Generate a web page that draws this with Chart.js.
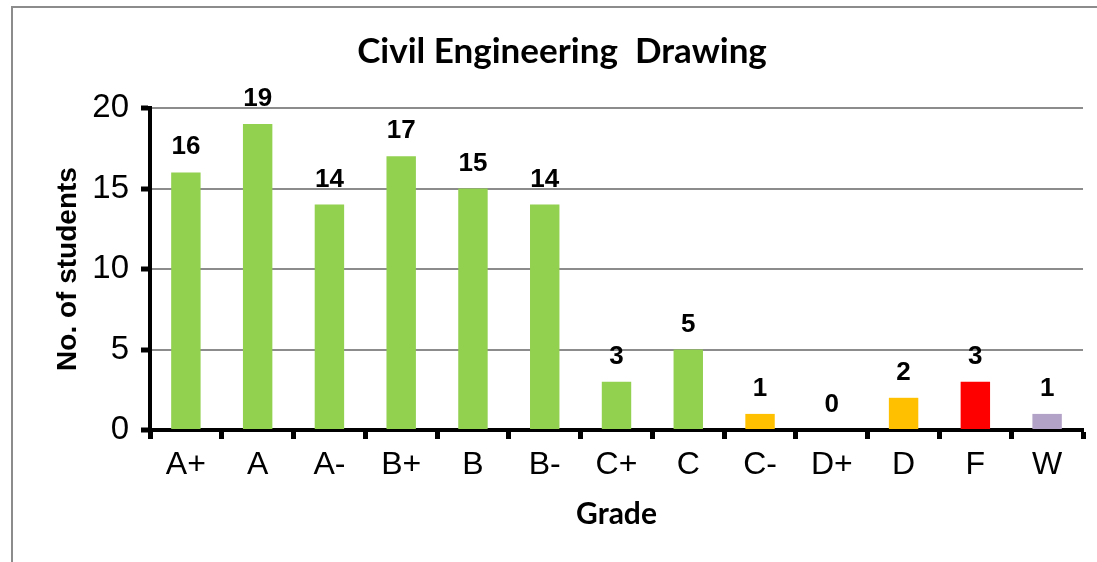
<!DOCTYPE html>
<html lang="en">
<head>
  <meta charset="UTF-8">
  <title>Civil Engineering Drawing</title>
  <script src="https://cdn.jsdelivr.net/npm/chart.js"></script>
  <style>
    html, body { margin: 0; padding: 0; background: #fff; }
    #wrap { position: relative; width: 1097px; height: 562px; }
  </style>
</head>
<body>
  <div id="wrap"><canvas id="gradeChart" width="1097" height="562"></canvas></div>

  <script>
    const grades = ['A+', 'A', 'A-', 'B+', 'B', 'B-', 'C+', 'C', 'C-', 'D+', 'D', 'F', 'W'];
    const students = [16, 19, 14, 17, 15, 14, 3, 5, 1, 0, 2, 3, 1];
    const barColors = ['#92D050', '#92D050', '#92D050', '#92D050', '#92D050', '#92D050',
                       '#92D050', '#92D050', '#FFC000', '#FFC000', '#FFC000', '#FF0000', '#B3A2C7'];
    const yTicks = [0, 5, 10, 15, 20];

    // outer frame + title + value labels
    const extras = {
      id: 'extras',
      beforeDraw(chart) {
        const c = chart.ctx;
        c.save();
        c.strokeStyle = '#8c8c8c';
        c.lineWidth = 2;
        c.strokeRect(12, 7, 1200, 700);
        c.restore();
      },
      afterDatasetsDraw(chart) {
        const c = chart.ctx;
        c.save();
        c.fillStyle = '#000';
        c.textAlign = 'center';
        c.textBaseline = 'alphabetic';
        c.font = 'bold 35px Lato, "Open Sans", sans-serif';
        c.fillText('Civil Engineering  Drawing', 562, 63);
        c.font = 'bold 26px "Liberation Sans", Arial, sans-serif';
        const meta = chart.getDatasetMeta(0);
        meta.data.forEach((bar, i) => {
          c.fillText(String(students[i]), bar.x, bar.y - 18);
        });
        c.restore();
      }
    };

    new Chart(document.getElementById('gradeChart'), {
      type: 'bar',
      data: {
        labels: grades,
        datasets: [{
          data: students,
          backgroundColor: barColors,
          barPercentage: 0.41,
          categoryPercentage: 1.0
        }]
      },
      options: {
        responsive: false,
        animation: false,
        layout: { padding: { top: 108, right: 14, bottom: 0, left: 0 } },
        plugins: {
          legend: { display: false },
          title: { display: false },
          tooltip: { enabled: false }
        },
        scales: {
          x: {
            offset: true,
            afterFit(axis) { axis.height = 132; },
            border: { color: '#000', width: 4 },
            grid: {
              offset: true,
              drawOnChartArea: false,
              drawTicks: true,
              tickLength: 9,
              tickWidth: 5,
              tickColor: '#000'
            },
            ticks: {
              color: '#000',
              font: { family: '"Liberation Sans", Arial, sans-serif', size: 32 },
              padding: 7
            },
            title: {
              display: true,
              text: 'Grade',
              color: '#000',
              font: { family: 'Lato, "Open Sans", sans-serif', size: 30, weight: 'bold' },
              padding: { top: 0, bottom: 30 }
            }
          },
          y: {
            min: 0,
            max: 20,
            afterBuildTicks(axis) { axis.ticks = yTicks.map(v => ({ value: v })); },
            afterFit(axis) { axis.width = 150; },
            border: { color: '#000', width: 4 },
            grid: {
              color: '#8c8c8c',
              lineWidth: 2,
              drawTicks: true,
              tickLength: 9,
              tickWidth: 5,
              tickColor: '#000'
            },
            ticks: {
              color: '#000',
              font: { family: '"Liberation Sans", Arial, sans-serif', size: 33 },
              padding: 12
            },
            title: {
              display: true,
              text: 'No. of students',
              color: '#000',
              font: { family: '"Liberation Sans", Arial, sans-serif', size: 28, weight: 'bold' },
              padding: { top: 51, bottom: 0 }
            }
          }
        }
      },
      plugins: [extras]
    });
  </script>
</body>
</html>
